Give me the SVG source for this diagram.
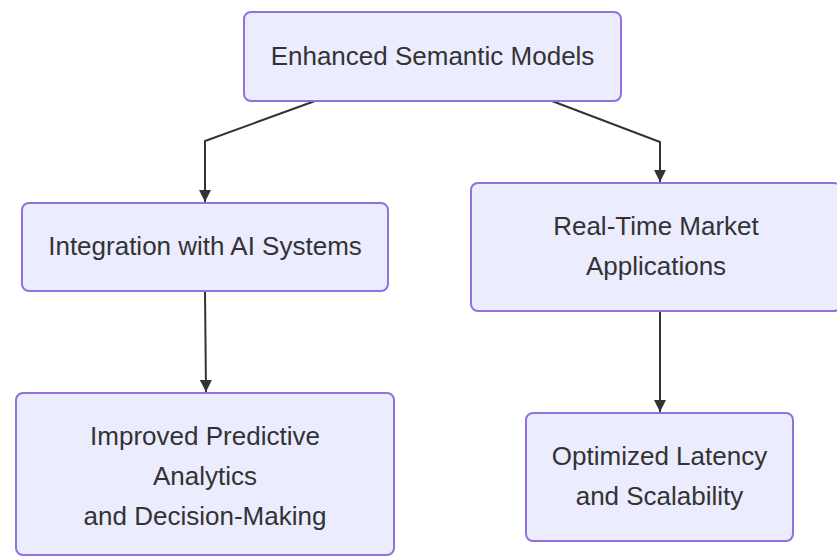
<svg xmlns="http://www.w3.org/2000/svg" width="837" height="556" viewBox="0 0 837 556">
<style>
.node rect{fill:#ECECFF;stroke:#9370DB;stroke-width:2}
.node text{font-family:"Liberation Sans",Arial,sans-serif;font-size:26px;fill:#333333;text-anchor:middle}
.edge{fill:none;stroke:#333333;stroke-width:2}
</style>
<defs>
<marker id="arrow" viewBox="0 0 12 12" refX="12" refY="6" markerWidth="12" markerHeight="12" markerUnits="userSpaceOnUse" orient="auto">
<path d="M0,0 L12,6 L0,12 Z" fill="#333333"/>
</marker>
</defs>
<rect width="837" height="556" fill="#ffffff"/>
<g id="connectors">
<path class="edge" d="M315,101 L205,141 L205,202" marker-end="url(#arrow)"/>
<path class="edge" d="M552,101 L660,142 L660,182" marker-end="url(#arrow)"/>
<path class="edge" d="M205,291 L206,392" marker-end="url(#arrow)"/>
<path class="edge" d="M660,311 L660,412" marker-end="url(#arrow)"/>
</g>
<g id="n1" class="node">
<rect x="244" y="12" width="377" height="89" rx="7"/>
<text x="432.5" y="65">Enhanced Semantic Models</text>
</g>
<g id="n2" class="node">
<rect x="22" y="203" width="366" height="88" rx="7"/>
<text x="205" y="255">Integration with AI Systems</text>
</g>
<g id="n3" class="node">
<rect x="471" y="183" width="370" height="128" rx="7"/>
<text x="656" y="235">Real-Time Market</text>
<text x="656" y="275">Applications</text>
</g>
<g id="n4" class="node">
<rect x="16" y="393" width="378" height="162" rx="7"/>
<text x="205" y="445">Improved Predictive</text>
<text x="205" y="485">Analytics</text>
<text x="205" y="525">and Decision-Making</text>
</g>
<g id="n5" class="node">
<rect x="526" y="413" width="267" height="128" rx="7"/>
<text x="659.5" y="465">Optimized Latency</text>
<text x="659.5" y="505">and Scalability</text>
</g>
</svg>
